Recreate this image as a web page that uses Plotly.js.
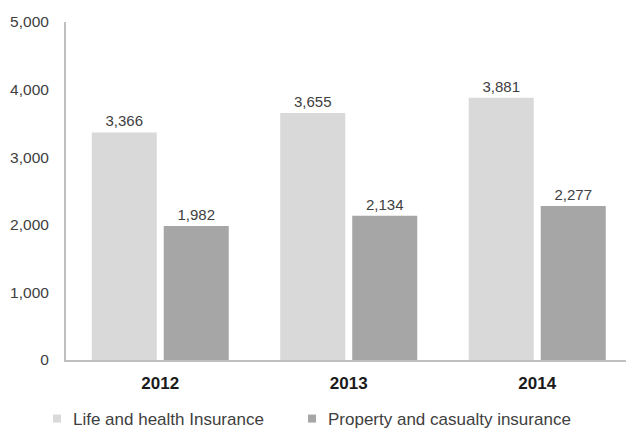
<!DOCTYPE html>
<html>
<head>
<meta charset="utf-8">
<script src="https://cdn.plot.ly/plotly-3.0.1.min.js"></script>
<style>html,body{margin:0;padding:0;background:#fff;}#chart{width:626px;height:429px;}</style>
</head>
<body>
<div id="chart"></div>
<script>
const years = ["2012", "2013", "2014"];
const lifeHealth = [3366, 3655, 3881];
const propertyCasualty = [1982, 2134, 2277];
const seriesNames = ["Life and health Insurance", "Property and casualty insurance"];
const yTicks = [0, 1000, 2000, 3000, 4000, 5000];

const fmt = v => v.toLocaleString("en-US");
const font = "Liberation Sans, Arial, sans-serif";

const traces = [
  {
    type: "bar", x: years, y: lifeHealth, name: seriesNames[0],
    marker: {color: "#d9d9d9"}, legend: "legend",
    text: lifeHealth.map(fmt), textposition: "outside", cliponaxis: false,
    textfont: {family: font, size: 15, color: "#404040"},
    hoverinfo: "skip"
  },
  {
    type: "bar", x: years, y: propertyCasualty, name: seriesNames[1],
    marker: {color: "#a6a6a6"}, legend: "legend2",
    text: propertyCasualty.map(fmt), textposition: "outside", cliponaxis: false,
    textfont: {family: font, size: 15, color: "#404040"},
    hoverinfo: "skip"
  }
];

const legendBase = {
  orientation: "h", xanchor: "left", y: -0.1746, yanchor: "middle",
  font: {family: font, size: 17, color: "#404040"},
  itemclick: false
};

const layout = {
  width: 626, height: 429,
  margin: {l: 66, r: 0, t: 22, b: 69, autoexpand: false},
  paper_bgcolor: "#fff", plot_bgcolor: "#fff",
  font: {family: font, color: "#404040"},
  barmode: "group",
  bargap: 0.236,
  bargroupgap: 0.097,
  showlegend: true,
  legend: Object.assign({}, legendBase, {x: -0.059}),
  legend2: Object.assign({}, legendBase, {x: 0.3964}),
  xaxis: {
    type: "category", range: [-0.5, 2.471],
    showline: true, linecolor: "#bfbfbf", linewidth: 2,
    showgrid: false, zeroline: false, ticks: "",
    ticklabelstandoff: 7,
    tickfont: {family: font, size: 17, color: "#1a1a1a", weight: "bold"},
    fixedrange: true
  },
  yaxis: {
    range: [0, 5000], tickvals: yTicks, ticktext: yTicks.map(fmt),
    showline: true, linecolor: "#bfbfbf", linewidth: 2,
    showgrid: false, zeroline: false, ticks: "",
    ticklabelstandoff: 12,
    tickfont: {family: font, size: 15.5, color: "#404040"},
    fixedrange: true
  }
};

Plotly.newPlot("chart", traces, layout, {displayModeBar: false, staticPlot: true}).then(gd => {
  // smaller legend squares placed closer to the text, as in the original
  gd.querySelectorAll(".legendpoints path").forEach(p => {
    p.setAttribute("d", "M28,4H20V-4H28Z");
    p.removeAttribute("transform");
  });
});
</script>
</body>
</html>
